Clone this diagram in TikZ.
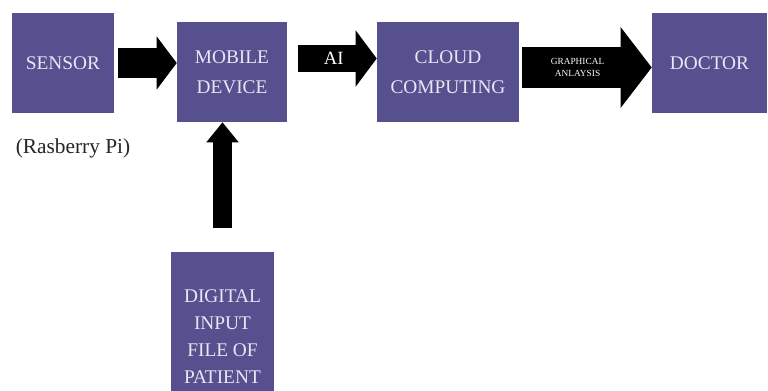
\documentclass[tikz,border=0pt]{standalone}
\usepackage{fontspec}
\setmainfont{Liberation Serif}
\definecolor{boxblue}{RGB}{86,81,142}
\definecolor{boxtext}{RGB}{232,230,245}
\usepackage{tikz}
\usetikzlibrary{arrows.meta,calc}

\begin{document}
\begin{tikzpicture}[x=0.75pt,y=-0.75pt,
    block/.style={rectangle,fill=boxblue,text=boxtext,align=center,
        font=\fontsize{14.5}{22.5}\selectfont,minimum height=75pt,inner sep=0pt},
    fatarrow/.style={draw=black,line width=#1},
    arrowlabel/.style={text=white,inner sep=0pt}]
    \clip (0,0) rectangle (768,390);
    \fill[white] (0,0) rectangle (768,390);

    % Sensor and its label
    \node[block,minimum width=76.5pt] (sensor) at (63,63) {SENSOR};
    \node[font=\fontsize{16}{18}\selectfont,text=black!85] (pi) at (73,148) {(Rasberry Pi)};

    % Mobile device
    \node[block,minimum width=82.5pt] (mobile) at (232,72) {MOBILE\\DEVICE};

    % Cloud
    \node[block,minimum width=106.5pt] (cloud) at (448,72) {CLOUD\\COMPUTING};

    % Doctor
    \node[block,minimum width=86.25pt] (doctor) at (709.5,63) {DOCTOR};

    % Patient file
    \node[block,minimum width=77.25pt,minimum height=127.5pt,
        font=\fontsize{14.5}{20.25}\selectfont] (patient) at (222.5,337)
        {DIGITAL\\INPUT\\FILE OF\\PATIENT};

    % Sensor -> mobile
    \draw[fatarrow=22.5pt,-{Triangle[length=15pt,width=39pt]},shorten <=3pt]
        (sensor.east) -- (sensor.east -| mobile.west);

    % Mobile -> cloud
    \coordinate (aistart) at ($(mobile.east)+(0,-13.5)$);
    \draw[fatarrow=20.25pt,-{Triangle[length=15.75pt,width=41.25pt]},shorten <=8.25pt]
        (aistart) -- (aistart -| cloud.west)
        node[arrowlabel,pos=0.52,font=\fontsize{14}{16}\selectfont] (ai) {AI};

    % Cloud -> doctor
    \coordinate (gastart) at ($(cloud.east)+(0,-4.5)$);
    \draw[fatarrow=30.75pt,-{Triangle[length=23.25pt,width=59.25pt]},shorten <=2.25pt]
        (gastart) -- (gastart -| doctor.west)
        node[arrowlabel,pos=0.44,align=center,font=\fontsize{7}{9.5}\selectfont] (ga)
        {GRAPHICAL\\ANLAYSIS};

    % Patient file -> mobile
    \draw[fatarrow=14.25pt,-{Triangle[length=15pt,width=23.25pt]},shorten <=18pt]
        (patient.north) -- (patient.north |- mobile.south);
\end{tikzpicture}
\end{document}
